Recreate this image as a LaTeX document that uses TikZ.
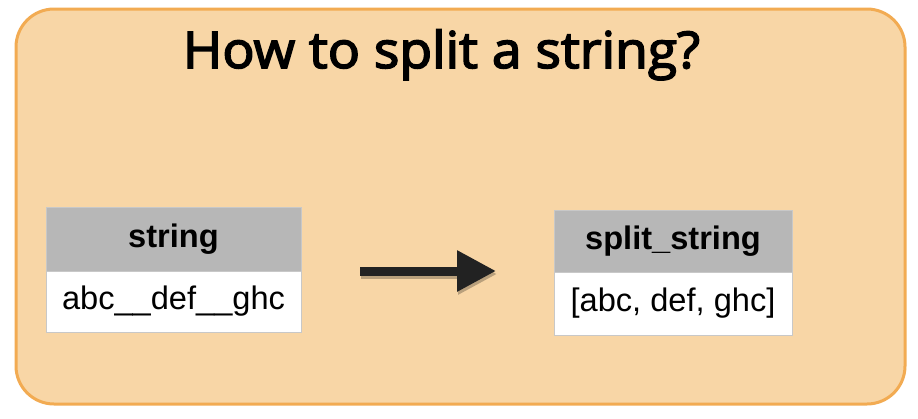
\documentclass[tikz,border=0pt]{standalone}
\usepackage{fontspec}
\setmainfont{Liberation Sans}
\newfontfamily\titlefont[FakeBold=3]{Open Sans}
\usetikzlibrary{arrows.meta}
\definecolor{panelfill}{HTML}{F8D6A6}
\definecolor{paneledge}{HTML}{F2AB52}
\definecolor{headfill}{HTML}{B7B7B7}
\definecolor{celledge}{HTML}{C8C8C8}
\definecolor{arrowcol}{HTML}{222222}
\tikzset{
  panel/.style={draw=paneledge, line width=3pt, fill=panelfill, rounded corners=38pt},
  headcell/.style={draw=celledge, line width=1pt, fill=headfill, inner sep=0pt,
    font=\fontsize{32.6}{36}\selectfont\bfseries},
  bodycell/.style={draw=celledge, line width=1pt, fill=white, inner sep=0pt,
    font=\fontsize{32.6}{36}\selectfont},
  bigarrow/.style={line width=9pt, arrowcol, -{Triangle[length=39pt,width=39pt]}},
  arrowshade/.style={line width=9pt, black, opacity=0.25, -{Triangle[length=39pt,width=39pt]}}
}
\begin{document}
\begin{tikzpicture}[x=1pt,y=-1pt]
\useasboundingbox[fill=white] (0,0) rectangle (918,418);
\draw[panel] (16,9) rectangle (905,404);
\node[anchor=base, inner sep=0pt] (title) at (441.5,68)
  {\resizebox{517pt}{38.5pt}{\titlefont\fontsize{50}{56}\selectfont How to split a string?}};
% left table
\node[headcell, minimum width=255pt, minimum height=64pt] (lh) at (173.5,239) {string};
\node[bodycell, minimum width=255pt, minimum height=61pt] (lb) at (173.5,301.5) {abc\_\_def\_\_ghc};
% right table
\node[headcell, minimum width=238pt, minimum height=62pt] (rh) at (673,241) {split\_string};
\node[bodycell, minimum width=238pt, minimum height=63pt] (rb) at (673,303.5) {[abc, def, ghc]};
% arrow
\coordinate (as) at (360,271);
\coordinate (ae) at (496,271);
\coordinate (ass) at (361,274);
\coordinate (aes) at (497,274);
\draw[arrowshade] (ass) -- (aes);
\draw[bigarrow] (as) -- (ae);
\end{tikzpicture}
\end{document}
